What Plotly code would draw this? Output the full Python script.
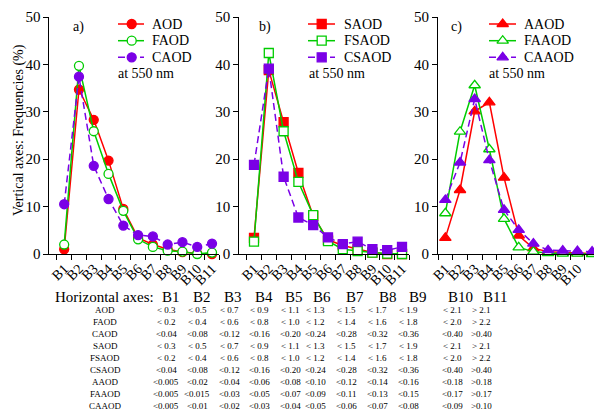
import plotly.graph_objects as go

W, H = 594, 415

bins = ["B1", "B2", "B3", "B4", "B5", "B6", "B7", "B8", "B9", "B10", "B11"]
xpos = list(range(1, 12))

# Panel a
aod = [1.0, 34.7, 28.3, 19.7, 9.5, 3.4, 2.0, 1.0, 0.4, 0.1, 0.0]
faod = [2.0, 39.7, 25.9, 16.9, 9.1, 3.1, 1.5, 0.7, 0.5, 0.0, 0.3]
caod = [10.5, 37.4, 18.6, 11.6, 6.0, 4.0, 3.7, 2.0, 2.5, 1.5, 2.2]

# Panel b
saod = [3.4, 38.8, 27.8, 17.1, 8.0, 3.0, 1.8, 1.0, 0.3, 0.0, 0.0]
fsaod = [2.6, 42.4, 25.9, 15.2, 8.2, 2.7, 1.0, 0.6, 0.3, 0.1, 0.0]
csaod = [18.8, 39.1, 16.3, 7.7, 6.1, 3.5, 2.1, 2.6, 1.0, 0.8, 1.5]

# Panel c
aaod = [3.4, 13.5, 30.1, 32.0, 16.1, 3.9, 1.2, 0.5, 0.3, 0.2, 0.1]
faaod = [8.6, 25.8, 35.6, 22.1, 7.4, 1.4, 0.5, 0.2, 0.1, 0.1, 0.0]
caaod = [11.4, 19.3, 32.7, 19.8, 9.3, 5.1, 2.2, 0.8, 0.7, 0.6, 0.5]

# Table of bin limits
table_rows = ["AOD", "FAOD", "CAOD", "SAOD", "FSAOD", "CSAOD", "AAOD", "FAAOD", "CAAOD"]
table_vals = [
    ["< 0.3", "< 0.5", "< 0.7", "< 0.9", "< 1.1", "< 1.3", "< 1.5", "< 1.7", "< 1.9", "< 2.1", "> 2.1"],
    ["< 0.2", "< 0.4", "< 0.6", "< 0.8", "< 1.0", "< 1.2", "< 1.4", "< 1.6", "< 1.8", "< 2.0", "> 2.2"],
    ["<0.04", "<0.08", "<0.12", "<0.16", "<0.20", "<0.24", "<0.28", "<0.32", "<0.36", "<0.40", ">0.40"],
    ["< 0.3", "< 0.5", "< 0.7", "< 0.9", "< 1.1", "< 1.3", "< 1.5", "< 1.7", "< 1.9", "< 2.1", "> 2.1"],
    ["< 0.2", "< 0.4", "< 0.6", "< 0.8", "< 1.0", "< 1.2", "< 1.4", "< 1.6", "< 1.8", "< 2.0", "> 2.2"],
    ["<0.04", "<0.08", "<0.12", "<0.16", "<0.20", "<0.24", "<0.28", "<0.32", "<0.36", "<0.40", ">0.40"],
    ["<0.005", "<0.02", "<0.04", "<0.06", "<0.08", "<0.10", "<0.12", "<0.14", "<0.16", "<0.18", ">0.18"],
    ["<0.005", "<0.015", "<0.03", "<0.05", "<0.07", "<0.09", "<0.11", "<0.13", "<0.15", "<0.17", ">0.17"],
    ["<0.005", "<0.01", "<0.02", "<0.03", "<0.04", "<0.05", "<0.06", "<0.07", "<0.08", "<0.09", ">0.10"],
]

RED = "#ff0000"
GREEN = "#00cc00"
PURPLE = "#7a00e6"
FONT = "Liberation Serif"


def px(x):
    return x / W


def py(y):
    return 1 - y / H


fig = go.Figure()

panels = [
    dict(ax="", names=["AOD", "FAOD", "CAOD"], data=[aod, faod, caod],
         sym="circle", leg=(118, 131.7, 144, 150)),
    dict(ax="2", names=["SAOD", "FSAOD", "CSAOD"], data=[saod, fsaod, csaod],
         sym="square", leg=(308, 321.7, 335, 341.7)),
    dict(ax="3", names=["AAOD", "FAAOD", "CAAOD"], data=[aaod, faaod, caaod],
         sym="triangle-up", leg=(489, 502.7, 516, 521.7)),
]
leg_rows = [24, 40.7, 57.3]

ann = []
for p in panels:
    styles = [
        dict(color=RED, fill=RED, dash="solid"),
        dict(color=GREEN, fill="white", dash="solid"),
        dict(color=PURPLE, fill=PURPLE, dash="7px,4px"),
    ]
    msize = 10 if p["sym"] == "triangle-up" else 9
    for name, vals, st, ry in zip(p["names"], p["data"], styles, leg_rows):
        mk = dict(symbol=p["sym"], size=msize, color=st["fill"],
                  line=dict(color=st["color"], width=1.3))
        ln = dict(color=st["color"], width=1.5, dash=st["dash"])
        fig.add_trace(go.Scatter(
            x=xpos, y=vals, name=name, mode="lines+markers",
            xaxis="x" + p["ax"], yaxis="y" + p["ax"],
            line=ln, marker=mk, cliponaxis=False, showlegend=False,
        ))
        # legend sample (drawn on an overlay pixel axis)
        x1, xm, x2, xt = p["leg"]
        fig.add_trace(go.Scatter(
            x=[x1, x2], y=[ry, ry], mode="lines", xaxis="x4", yaxis="y4",
            line=ln, showlegend=False, hoverinfo="skip", cliponaxis=False,
        ))
        fig.add_trace(go.Scatter(
            x=[xm], y=[ry], mode="markers", xaxis="x4", yaxis="y4",
            marker=mk, showlegend=False, hoverinfo="skip", cliponaxis=False,
        ))
        ann.append(dict(text=name, x=px(xt), y=py(ry), xref="paper", yref="paper",
                        xanchor="left", yanchor="middle", showarrow=False,
                        font=dict(family=FONT, size=14)))

ydom = [py(254), py(17)]
xdoms = [[px(49.4), px(219.4)], [px(239.2), px(409.4)], [px(438.0), 1.0]]
xranges = [[0, 11.5], [0, 11.5], [0.5, 11.13]]

layout = dict(
    width=W, height=H,
    margin=dict(l=0, r=0, t=0, b=0, autoexpand=False),
    paper_bgcolor="white", plot_bgcolor="rgba(0,0,0,0)",
    font=dict(family=FONT, size=14, color="black"),
    showlegend=False,
    xaxis4=dict(domain=[0, 1], range=[0, W], visible=False, anchor="y4", fixedrange=True),
    yaxis4=dict(domain=[0, 1], range=[H, 0], visible=False, anchor="x4", fixedrange=True),
)

for i, (dom, rng) in enumerate(zip(xdoms, xranges)):
    suffix = "" if i == 0 else str(i + 1)
    layout["xaxis" + suffix] = dict(
        domain=dom, range=rng, anchor="y" + suffix,
        tickmode="array", tickvals=xpos, ticktext=bins, tickangle=-45,
        ticks="", showline=True, linecolor="black", linewidth=1,
        showgrid=False, zeroline=False,
        tickfont=dict(family=FONT, size=14),
        minor=dict(tickmode="linear", tick0=0.5, dtick=1, ticks="outside",
                   ticklen=5, tickcolor="black", showgrid=False),
    )
    layout["yaxis" + suffix] = dict(
        domain=ydom, range=[0, 50], anchor="x" + suffix,
        tickmode="array", tickvals=[0, 10, 20, 30, 40, 50],
        ticks="outside", ticklen=5, tickcolor="black",
        showline=True, linecolor="black", linewidth=1,
        showgrid=False, zeroline=False,
        tickfont=dict(family=FONT, size=15),
    )

fig.update_layout(**layout)

# panel labels and "at 550 nm"
for lab, lx, nx in zip(["a)", "b)", "c)"], [71, 257, 449], [116, 306.7, 486.7]):
    ann.append(dict(text=lab, x=px(lx), y=py(27), xref="paper", yref="paper",
                    xanchor="left", yanchor="middle", showarrow=False,
                    font=dict(family=FONT, size=14)))
    ann.append(dict(text="at 550 nm", x=px(nx), y=py(73), xref="paper", yref="paper",
                    xanchor="left", yanchor="middle", showarrow=False,
                    font=dict(family=FONT, size=14)))

# y title
ann.append(dict(text="Vertical axes: Frequencies (%)", x=px(19), y=py(130),
                xref="paper", yref="paper", textangle=-90, showarrow=False,
                xanchor="center", yanchor="middle", font=dict(family=FONT, size=14)))

# table header
hdr_x = [171, 202, 233, 264, 294, 322, 355, 388, 418, 460, 495]
ann.append(dict(text="Horizontal axes:", x=px(104), y=py(297), xref="paper", yref="paper",
                showarrow=False, xanchor="center", yanchor="middle",
                font=dict(family=FONT, size=15)))
for b, hx in zip(bins, hdr_x):
    ann.append(dict(text=b, x=px(hx), y=py(297), xref="paper", yref="paper",
                    showarrow=False, xanchor="center", yanchor="middle",
                    font=dict(family=FONT, size=15)))

col_x = [166, 197, 229, 259, 290, 315, 346, 377, 408, 452, 481]
row_y = [309.8, 321.8, 333.8, 345.8, 357.8, 369.8, 381.8, 393.8, 405.8]
for rname, vals, ry in zip(table_rows, table_vals, row_y):
    ann.append(dict(text=rname, x=px(105), y=py(ry), xref="paper", yref="paper",
                    showarrow=False, xanchor="center", yanchor="middle",
                    font=dict(family=FONT, size=9)))
    for v, cx in zip(vals, col_x):
        ann.append(dict(text=v, x=px(cx), y=py(ry), xref="paper", yref="paper",
                        showarrow=False, xanchor="center", yanchor="middle",
                        font=dict(family=FONT, size=9)))

fig.update_layout(annotations=ann)

fig.write_html(
    "out.html",
    config={"displayModeBar": False},
    post_script="document.body.style.margin='0';document.body.style.padding='0';",
)
